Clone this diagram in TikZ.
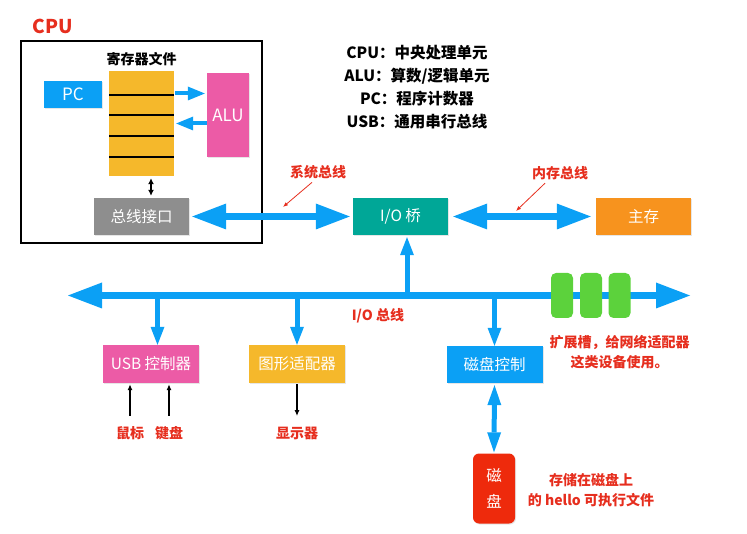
\documentclass[tikz,border=0pt]{standalone}
\usepackage{fontspec}
\setmainfont{Noto Sans CJK SC}
\usepackage{xcolor}
\usepackage{tikz}
\usetikzlibrary{arrows.meta,shadows}

\definecolor{cblue}{HTML}{0BA0F5}
\definecolor{cpink}{HTML}{EC5BA6}
\definecolor{cyellow}{HTML}{F5B82B}
\definecolor{cteal}{HTML}{00A797}
\definecolor{corange}{HTML}{F7931E}
\definecolor{cgrey}{HTML}{8E8E8E}
\definecolor{cgreen}{HTML}{5CD23C}
\definecolor{cdisk}{HTML}{EE2A0C}
\definecolor{cred}{HTML}{E62E1E}

\begin{document}
\begin{tikzpicture}[x=1pt,y=-1pt,
		box/.style={inner sep=0pt, text=white, font=\fontsize{15.5}{18}\selectfont,
			drop shadow={opacity=0.2,shadow xshift=1pt,shadow yshift=-1pt}},
		note/.style={text=cred, font=\bfseries\fontsize{14}{20}\selectfont, align=center},
		bus/.style={draw=cblue, line width=7pt,
			{Triangle[length=34pt,width=26pt,line width=0pt]}-{Triangle[length=34pt,width=26pt,line width=0pt]}},
		tap/.style={draw=cblue, line width=5pt, -{Triangle[length=18pt,width=14pt,line width=0pt]}},
		twotap/.style={draw=cblue, line width=5pt,
			{Triangle[length=20pt,width=14pt,line width=0pt]}-{Triangle[length=20pt,width=14pt,line width=0pt]}},
		cpuarr/.style={draw=cblue, line width=4pt, -{Triangle[length=17pt,width=14pt,line width=0pt]}},
		wire/.style={draw=black, line width=1.2pt, -{Latex[length=6pt,width=5pt]}},
		twowire/.style={draw=black, line width=1.2pt, {Latex[length=6pt,width=6pt]}-{Latex[length=6pt,width=6pt]}},
		pointer/.style={draw=cred, line width=0.8pt, -{Latex[length=5pt,width=4pt]}},
		slot/.style={fill=cgreen, rounded corners=5pt, minimum width=22pt, minimum height=45pt, inner sep=0pt}]
	\useasboundingbox (0,0) rectangle (747,534);

	% CPU
	\node[text=cred, font=\bfseries\fontsize{19}{20}\selectfont] (cputitle) at (53,26) {CPU};
	\node[draw, line width=1.2pt, minimum width=241pt, minimum height=202pt] (cpu) at (141.5,142) {};
	\node[font=\bfseries\fontsize{14}{16}\selectfont] (reglabel) at (141.5,59) {寄存器文件};
	\node[fill=cyellow, minimum width=65pt, minimum height=105pt, inner sep=0pt] (regfile) at (141.5,123.5) {};
	\foreach \y in {95,115,136,157}
		\draw[line width=1.2pt] (109,\y) -- (174,\y);
	\node[box, fill=cblue, minimum width=58pt, minimum height=27pt, font=\fontsize{17}{18}\selectfont] (pc) at (73,94.5) {PC};
	\node[box, fill=cpink, minimum width=42pt, minimum height=84pt, font=\fontsize{17}{18}\selectfont] (alu) at (228,115) {ALU};
	\node[box, fill=cgrey, minimum width=95pt, minimum height=37pt] (busif) at (141.5,216.5) {总线接口};

	\draw[cpuarr, shorten <=1pt, shorten >=2pt] ([yshift=30pt]regfile.east) -- ([yshift=30pt]regfile.east -| alu.west);
	\draw[cpuarr, shorten >=2pt] (alu.west |- regfile.east) -- (regfile.east);
	\draw[twowire, shorten <=2pt, shorten >=2pt] ([xshift=9.5pt]regfile.south) -- ([xshift=9.5pt]regfile.south |- busif.north);

	% legend
	\node[font=\bfseries\fontsize{15.5}{23}\selectfont, align=center] (legend) at (417,87.5)
		{CPU：中央处理单元\\ALU：算数/逻辑单元\\PC：程序计数器\\USB：通用串行总线};

	% bridge and memory
	\node[box, fill=cteal, minimum width=95pt, minimum height=37pt] (bridge) at (400.5,216.5) {I/O 桥};
	\node[box, fill=corange, minimum width=95pt, minimum height=37pt] (mem) at (643.5,216.5) {主存};
	\draw[bus, shorten <=3pt, shorten >=3pt] (busif.east) -- (bridge.west);
	\draw[bus, shorten <=5pt, shorten >=5pt] (bridge.east) -- (mem.west);

	\node[note] (syslabel) at (318,172) {系统总线};
	\node[note] (memlabel) at (560,173) {内存总线};
	\coordinate (sysp) at (283,207);
	\coordinate (memp) at (516,211);
	\draw[pointer] ([xshift=-6pt]syslabel.south) -- (sysp);
	\draw[pointer] ([xshift=-15pt]memlabel.south) -- (memp);

	% I/O bus
	\coordinate (busL) at (68,295.5);
	\coordinate (busR) at (690,295.5);
	\draw[bus] (busL) -- (busR);
	\foreach \x [count=\i] in {562,591,619.5}
		\node[slot] (slot\i) at (\x,295.5) {};
	\node[note] (iolabel) at (378,316) {I/O 总线};

	\coordinate (bt) at ([xshift=6.5pt]bridge.south);
	\draw[tap, shorten >=2pt] (bt |- busL) -- (bt);

	% controllers
	\node[box, fill=cpink, minimum width=96pt, minimum height=38pt] (usb) at (151,364) {USB 控制器};
	\node[box, fill=cyellow, minimum width=96pt, minimum height=38pt] (gfx) at (297,364) {图形适配器};
	\node[box, fill=cblue, minimum width=96pt, minimum height=37pt] (diskctl) at (494.5,364.5) {磁盘控制};
	\node[box, fill=cdisk, rounded corners=6pt, minimum width=42pt, minimum height=70pt, align=center,
		font=\fontsize{15.5}{26}\selectfont] (disk) at (494,488.5) {磁\\盘};

	\coordinate (ut) at ([xshift=6.5pt]usb.north);
	\draw[tap] (ut |- busL) -- (ut);
	\draw[tap] (gfx.north |- busL) -- (gfx.north);
	\draw[tap] (diskctl.north |- busL) -- (diskctl.north);
	\draw[twotap, shorten <=2pt, shorten >=1pt] (diskctl.south) -- (disk.north);

	% devices
	\node[note] (mouse) at (130,433) {鼠标};
	\node[note] (kbd) at (169,433) {键盘};
	\node[note] (disp) at (297,433) {显示器};
	\draw[wire, shorten <=7pt, shorten >=1pt] (mouse.north) -- (mouse.north |- usb.south);
	\draw[wire, shorten <=7pt, shorten >=1pt] (kbd.north) -- (kbd.north |- usb.south);
	\draw[wire, shorten <=1pt, shorten >=7pt] (gfx.south) -- (disp.north);

	\node[note] (extnote) at (619.5,352) {扩展槽，给网络适配器\\这类设备使用。};
	\node[note] (hellonote) at (591,490) {存储在磁盘上\\的 hello 可执行文件};
\end{tikzpicture}
\end{document}
